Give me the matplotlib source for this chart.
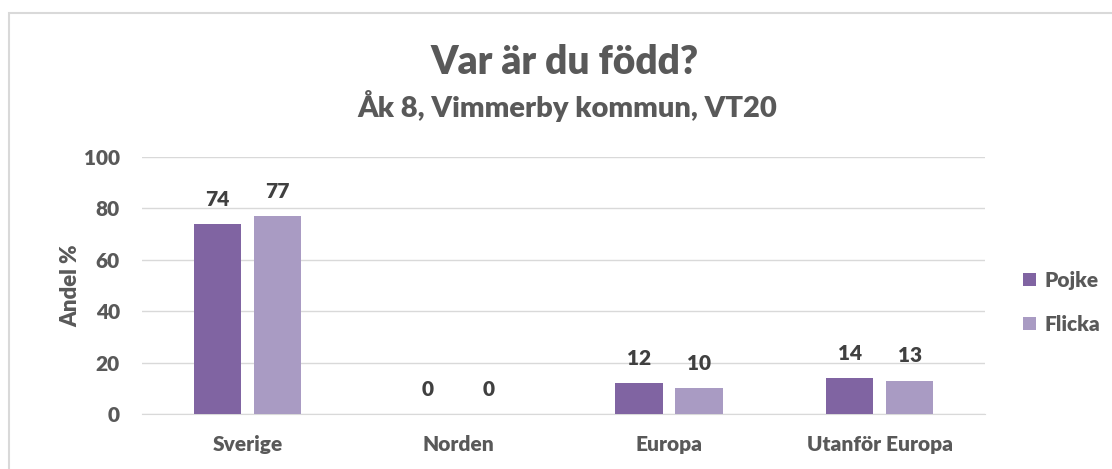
import matplotlib.pyplot as plt
import numpy as np
from matplotlib.patches import Rectangle

plt.rcParams['font.family'] = ['Lato', 'DejaVu Sans']

categories = ['Sverige', 'Norden', 'Europa', 'Utanför Europa']
pojke = [74, 0, 12, 14]
flicka = [77, 0, 10, 13]
series_names = ['Pojke', 'Flicka']

c_pojke = '#8064A2'
c_flicka = '#A99BC3'
txt = '#595959'
wt = 'heavy'

fig = plt.figure(figsize=(11.12, 4.69), dpi=100)
ax = fig.add_axes([142 / 1112, 1 - 414 / 469, (985 - 142) / 1112, (414 - 157) / 469])

x = np.arange(len(categories))
w = 0.225
off = 0.1425
b1 = ax.bar(x - off, pojke, w, color=c_pojke, label=series_names[0], zorder=3)
b2 = ax.bar(x + off, flicka, w, color=c_flicka, label=series_names[1], zorder=3)

for bars, vals in ((b1, pojke), (b2, flicka)):
    for b, v in zip(bars, vals):
        ax.annotate(str(v), (b.get_x() + b.get_width() / 2, v), xytext=(0, 11),
                    textcoords='offset points', ha='center', va='bottom',
                    fontsize=15, fontweight=wt, color='#404040')

ax.set_xlim(-0.5, len(categories) - 0.5)
ax.set_ylim(0, 100)
ax.set_yticks(range(0, 101, 20))
ax.set_xticks(x)
ax.set_xticklabels(categories)
ax.tick_params(length=0, labelsize=15, colors=txt)
for lab in ax.get_xticklabels() + ax.get_yticklabels():
    lab.set_fontweight(wt)
ax.tick_params(axis='x', pad=15)
ax.tick_params(axis='y', pad=16)
ax.grid(axis='y', color='#d9d9d9', linewidth=1, zorder=0)
for s in ['top', 'right', 'left']:
    ax.spines[s].set_visible(False)
ax.spines['bottom'].set_color('#d9d9d9')
ax.set_ylabel('Andel %', fontsize=16, fontweight=wt, color=txt, labelpad=2)

fig.text(565 / 1112, 1 - 62 / 469, 'Var är du född?', ha='center', va='center',
         fontsize=28, fontweight=wt, color=txt)
fig.text(567 / 1112, 1 - 106 / 469, 'Åk 8, Vimmerby kommun, VT20', ha='center', va='center',
         fontsize=21, fontweight=wt, color=txt)

fig.legend(loc='center left', bbox_to_anchor=(1013 / 1112, 1 - 302 / 469), frameon=False,
           prop={'size': 15, 'weight': wt}, labelcolor=txt, handlelength=0.6,
           handleheight=0.6, handletextpad=0.4, labelspacing=1.2, borderpad=0)

fig.patches.append(Rectangle((9 / 1112, -0.05), 1.2, 1 - 13 / 469 + 0.05, transform=fig.transFigure,
                             fill=False, edgecolor='#d9d9d9', linewidth=1.5))

fig.savefig('out.png', dpi=100)
